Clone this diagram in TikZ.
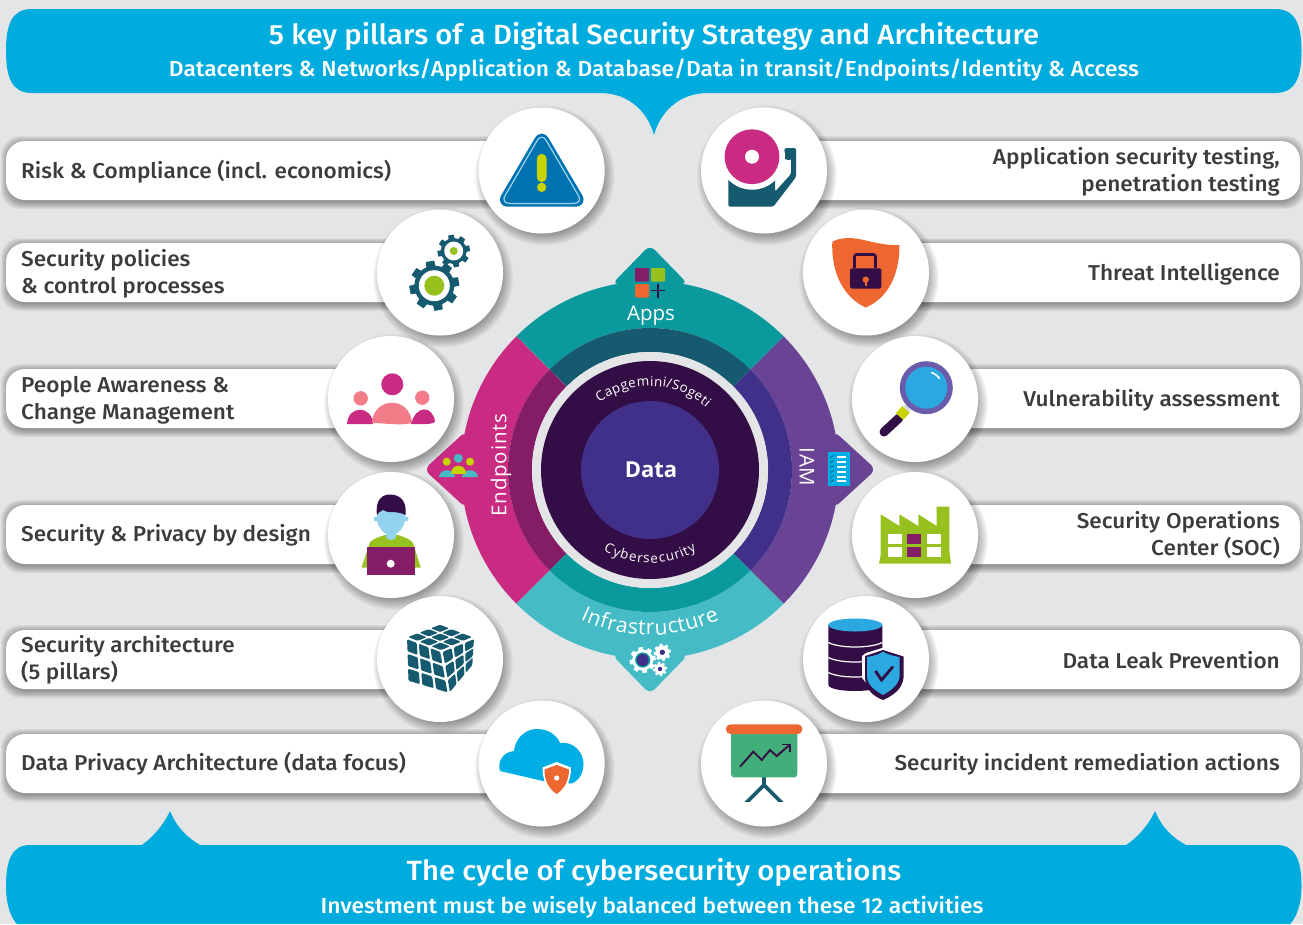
\documentclass[tikz,border=0pt]{standalone}
\usepackage{fontspec}
\setmainfont[FakeStretch=1.05]{Fira Sans Medium}
\newfontfamily\wheelfont{Open Sans}
\newfontfamily\wheelspaced[LetterSpace=4]{Open Sans}
\usetikzlibrary{decorations.text}
\definecolor{bgc}{HTML}{E4E5E7}
\definecolor{banner}{HTML}{00ACDD}
\definecolor{inkc}{HTML}{3C3C3B}
\definecolor{tealA}{HTML}{0A9A9E}
\definecolor{tealB}{HTML}{155A6E}
\definecolor{magA}{HTML}{C92A82}
\definecolor{magB}{HTML}{851C66}
\definecolor{purA}{HTML}{6A4494}
\definecolor{purB}{HTML}{403089}
\definecolor{cyanA}{HTML}{45BCC5}
\definecolor{darkc}{HTML}{330D45}
\definecolor{greenc}{HTML}{97C11E}
\definecolor{yelc}{HTML}{C8D400}
\definecolor{orac}{HTML}{EE6730}
\definecolor{bluec}{HTML}{00AEE6}
\definecolor{blued}{HTML}{2AA8DF}
\definecolor{salm}{HTML}{F27C87}
\definecolor{warnb}{HTML}{0072B0}
\definecolor{warnl}{HTML}{9AD5F0}
\definecolor{boardc}{HTML}{42AE79}
\definecolor{lensc}{HTML}{6A5CAA}
\tikzset{
  bartext/.style={text=inkc,font=\fontsize{21.5}{27}\selectfont,inner sep=0pt},
  lefttext/.style={bartext,anchor=west,align=left},
  righttext/.style={bartext,anchor=east,align=right},
  wheeltext/.style={text=white,inner sep=0pt,font=\wheelfont\fontsize{20.5}{24}\selectfont},
  wheelsp/.style={text=white,inner sep=0pt,font=\wheelspaced\fontsize{20.5}{24}\selectfont},
  whitetitle/.style={text=white,inner sep=0pt,font=\fontsize{27.8}{30}\selectfont},
  whitesmall/.style={text=white,inner sep=0pt,font=\fontsize{21.7}{24}\selectfont},
}
\newcommand\softcirc[3]{%
  \foreach \i in {1,...,12}{\fill[black,opacity=.03] (#1+3,#2+5) circle ({#3+8-\i});}%
  \fill[white] (#1,#2) circle (#3);}
\newcommand\softbar[4]{% x1 y1 x2 y2
  \foreach \i in {1,...,8}{\fill[black,opacity=.05,rounded corners=19] (#1-\i+3,#2-\i+3) rectangle (#3+\i-3,#4+\i+1);}%
  \fill[white,rounded corners=19] (#1,#2) rectangle (#3,#4);}
\newcommand\sect[5]{\fill[#5] plot[domain=#3:#4,samples=60] ({650+#1*cos(\x)},{470-#1*sin(\x)}) -- plot[domain=#4:#3,samples=60] ({650+#2*cos(\x)},{470-#2*sin(\x)}) -- cycle;}
% curved text: radius, from, to, size, text
\newcommand\curvetext[5]{\path[decorate,decoration={text effects along path,text={#5},text effects/.cd,text along path,fit text to path,characters={font=\wheelfont\fontsize{#4}{#4}\selectfont,text=white}}] plot[domain=#2:#3,samples=40] ({650+#1*cos(\x)},{470-#1*sin(\x)});}
% gear: x y Rout Rroot hole colour teeth
\newcommand\gear[7]{%
  \fill[#6] (#1,#2) circle (#4);
  \foreach \k in {1,...,#7}{\fill[#6,shift={(#1,#2)},rotate={\k*360/#7+10}] (-#3*.24,0) -- (-#3*.17,#3) -- (#3*.17,#3) -- (#3*.24,0) -- cycle;}
}
% cube face: corners P00 P10 P01 P11 (bilinear)
\newcommand\cbpt[2]{({(1-#1)*(1-#2)*\xa+#1*(1-#2)*\xb+(1-#1)*#2*\xc+#1*#2*\xd},{(1-#1)*(1-#2)*\ya+#1*(1-#2)*\yb+(1-#1)*#2*\yc+#1*#2*\yd})}
\newcommand\cubeface[8]{%
  \def\xa{#1}\def\ya{#2}\def\xb{#3}\def\yb{#4}\def\xc{#5}\def\yc{#6}\def\xd{#7}\def\yd{#8}%
  \foreach \i in {0,1,2}{\foreach \j in {0,1,2}{%
    \pgfmathsetmacro\ua{(\i+.09)/3}\pgfmathsetmacro\ub{(\i+.91)/3}%
    \pgfmathsetmacro\va{(\j+.09)/3}\pgfmathsetmacro\vb{(\j+.91)/3}%
    \fill[tealB,rounded corners=1.2] \cbpt{\ua}{\va} -- \cbpt{\ub}{\va} -- \cbpt{\ub}{\vb} -- \cbpt{\ua}{\vb} -- cycle;}}}
\begin{document}
\begin{tikzpicture}[x=1pt,y=-1pt]
\useasboundingbox (0,0) rectangle (1303,924);
\fill[bgc] (0,0) rectangle (1303,924);
% banners
\fill[banner] (6,51) .. controls (6,24) and (12,9) .. (32,9) -- (1275,9) .. controls (1295,9) and (1301.5,24) .. (1301.5,51) .. controls (1301.5,78) and (1295,93) .. (1275,93) -- (708,93) .. controls (678,93) and (660,113) .. (654,135) .. controls (648,113) and (630,93) .. (600,93) -- (32,93) .. controls (12,93) and (6,78) .. cycle;
\fill[banner] (6,886) .. controls (6,860) and (12,845) .. (30,845) -- (141.7,845) .. controls (152,838) and (163,826) .. (170,811) .. controls (177,828) and (188,838) .. (200,845) -- (1126,845) .. controls (1137,838) and (1148,826) .. (1155,811) .. controls (1162,828) and (1173,838) .. (1186,845) -- (1277,845) .. controls (1295,845) and (1301.5,860) .. (1301.5,886) .. controls (1301.5,905) and (1296,918) .. (1290,924) -- (17,924) .. controls (11,918) and (6,905) .. cycle;
\node[whitetitle] (title) at (654,36) {5 key pillars of a Digital Security Strategy and Architecture};
\node[whitesmall] (subtitle) at (654,70) {Datacenters \& Networks/Application \& Database/Data in transit/Endpoints/Identity \& Access};
\node[whitetitle] (foot) at (654,872) {The cycle of cybersecurity operations};
\node[whitesmall] (footsub) at (652,907) {Investment must be wisely balanced between these 12 activities};
% wheel tabs
\fill[tealA,rounded corners=7] (612,284) -- (650,245) -- (688,284) -- cycle;
\fill[cyanA,rounded corners=7] (612,655) -- (650,694) -- (688,655) -- cycle;
\fill[magA,rounded corners=7] (466,431) -- (424,469.5) -- (466,508) -- cycle;
\fill[purA,rounded corners=7] (834,431) -- (876,469.5) -- (834,508) -- cycle;
% wheel
\sect{189}{142}{45}{135}{tealA}
\sect{142}{118}{45}{135}{tealB}
\sect{189}{142}{135}{225}{magA}
\sect{142}{118}{135}{225}{magB}
\sect{189}{142}{225}{315}{cyanA}
\sect{142}{118}{225}{315}{tealA}
\sect{189}{142}{-45}{45}{purA}
\sect{142}{118}{-45}{45}{purB}
\fill[bgc] (650,470) circle (118);
\fill[darkc] (650,470) circle (109);
\fill[purB] (650,470) circle (69);
\node[text=white,font=\wheelfont\bfseries\fontsize{22}{24}\selectfont,inner sep=0pt] (data) at (651,470) {Data};
\node[wheeltext] (apps) at (651,316) {Apps};
\node[wheelsp,rotate=90] (endp) at (501,465) {Endpoints};
\node[wheelsp,rotate=-90] (iam) at (807,467) {IAM};
\curvetext{84}{127}{48}{13.4}{Capgemini/Sogeti}
\curvetext{93}{240}{300}{13.4}{Cybersecurity}
\curvetext{165}{245}{295}{21}{Infrastructure}
% tab icons
\fill[magB,rounded corners=1] (635,268) rectangle (649,281.5);
\fill[greenc,rounded corners=1] (651,268) rectangle (665,281.5);
\fill[orac,rounded corners=1] (635,284) rectangle (649,297.5);
\draw[darkc,line width=1.3] (651,290.7) -- (665,290.7) (658,284) -- (658,297.5);
\fill[yelc] (446.7,461.7) circle (4) (470,461.7) circle (4);
\fill[cyanA] (458.3,458.3) circle (4.5);
\fill[cyanA] (439,477) .. controls (440,468) and (454,468) .. (455,477) -- cycle;
\fill[cyanA] (462,477) .. controls (463,468) and (477,468) .. (478,477) -- cycle;
\fill[yelc] (451,474) .. controls (451,463) and (466,463) .. (466,474) -- cycle;
\fill[bluec] (827.5,452) rectangle (850,485.5);
\foreach \yy in {456.5,461.5,466.5,471.5,476.5,481}{
  \fill[white] (836.5,\yy-1) rectangle (846,\yy+1);
  \draw[tealB,line width=.6] (830,\yy-.5) -- (831.5,\yy+1) -- (834,\yy-1.5);}
\gear{642.7}{660}{13}{10.5}{6}{white}{8}
\fill[tealA] (642.7,660) circle (7.6);
\fill[purB] (642.7,660) circle (6);
\gear{662.3}{652.3}{8.5}{6.8}{3}{white}{8}
\fill[purB] (662.3,652.3) circle (2.7);
\gear{660}{669}{7}{5.6}{2}{white}{8}
\fill[purB] (660,669) circle (2.2);
% left bars and circles
\softbar{6}{141}{520}{200}
\node[lefttext] (t1) at (21,171.5) {Risk \& Compliance (incl. economics)};
\softcirc{541.7}{170.5}{63}
\softbar{6}{243}{420}{302}
\node[lefttext] (t2) at (21,274) {Security policies\\\& control processes};
\softcirc{440}{272.5}{63}
\softbar{6}{369}{370}{428}
\node[lefttext] (t3) at (21,400) {People Awareness \&\\Change Management};
\softcirc{391}{399}{63}
\softbar{6}{505}{370}{564}
\node[lefttext] (t4) at (21,535.5) {Security \& Privacy by design};
\softcirc{391}{535}{63}
\softbar{6}{630}{420}{689}
\node[lefttext] (t5) at (21,660) {Security architecture\\(5 pillars)};
\softcirc{440}{659}{63}
\softbar{6}{734}{520}{793}
\node[lefttext] (t6) at (21,764) {Data Privacy Architecture (data focus)};
\softcirc{541.7}{763.5}{63}
% right bars and circles
\softbar{785}{141}{1300}{200}
\node[righttext] (r1) at (1280,171.5) {Application security testing,\\penetration testing};
\softcirc{764}{170.5}{63}
\softbar{885}{243}{1300}{302}
\node[righttext] (r2) at (1280,274) {Threat Intelligence};
\softcirc{866}{272.5}{63}
\softbar{935}{369}{1300}{428}
\node[righttext] (r3) at (1280,400) {Vulnerability assessment};
\softcirc{915}{399}{63}
\softbar{935}{505}{1300}{564}
\node[righttext] (r4) at (1280,535.5) {Security Operations\\Center (SOC)};
\softcirc{915}{535}{63}
\softbar{885}{630}{1300}{689}
\node[righttext] (r5) at (1280,660) {Data Leak Prevention};
\softcirc{866}{659}{63}
\softbar{785}{734}{1300}{793}
\node[righttext] (r6) at (1280,764) {Security incident remediation actions};
\softcirc{764}{763.5}{63}
% icon: warning
\fill[warnb,rounded corners=14] (541.7,126.5) -- (589,206.7) -- (494.5,206.7) -- cycle;
\draw[warnl,line width=1.2,rounded corners=9] (541.7,132.7) -- (583,203.4) -- (500.5,203.4) -- cycle;
\fill[yelc,rounded corners=4.5] (536.9,154) rectangle (546.5,182);
\fill[yelc] (541.7,187.3) circle (4.7);
% gears
\gear{434.3}{285.7}{24.8}{20}{15}{tealB}{8}
\fill[white] (434.3,285.7) circle (15.5);
\fill[greenc] (434.3,285.7) circle (10);
\gear{453.7}{251}{16.2}{13}{9}{tealB}{8}
\fill[white] (453.7,251) circle (9.5);
\fill[greenc] (453.7,251) circle (4);
% people
\fill[magA] (392.3,384.3) circle (11);
\fill[salm] (360.7,398.3) circle (7.2) (422.3,397.7) circle (7.2);
\fill[magA] (347,424) .. controls (348,405) and (372,405) .. (373,424) -- cycle;
\fill[magA] (411,424) .. controls (416,405) and (432,405) .. (435,421) .. controls (435,425) and (420,424) .. (411,424) -- cycle;
\fill[salm] (371.7,423) .. controls (374,396) and (410,396) .. (412,423) .. controls (400,426) and (385,423) .. cycle;
% person laptop
\fill[greenc] (361.5,567.5) -- (370,542) .. controls (374,538) and (382,536) .. (385,535) -- (398,535) .. controls (404,537) and (410,539) .. (413,543) -- (420.7,567.5) -- cycle;
\fill[blued!50!white] (376,519) circle (2.5) (406,519) circle (2.5);
\fill[blued!50!white] (377,510) -- (405,510) -- (405,520) .. controls (404,528) and (398,533) .. (396,534) -- (396,537) .. controls (396,541) and (386,541) .. (386,537) -- (386,534) .. controls (384,533) and (378,528) .. (377,520) -- cycle;
\fill[darkc] (377,515) .. controls (375,500) and (382,494) .. (391,494.5) .. controls (401,495) and (407,502) .. (405.5,515) .. controls (396,510) and (388,514) .. (383,510) .. controls (380,511) and (378,513) .. (377,515) -- cycle;
\fill[magB] (367.3,547) rectangle (415,575.3);
\fill[white] (390.7,563.7) circle (4);
% cube
\cubeface{441}{651}{406}{637}{474}{637}{440}{624}
\cubeface{441}{651}{406}{637.5}{449}{694}{407.3}{681.7}
\cubeface{441.5}{651}{475}{638}{449.5}{694}{473}{665}
% cloud
\fill[bluec] (500,771) .. controls (497,762) and (503,752) .. (514,751) .. controls (516,735) and (528,729) .. (537,729) .. controls (548,729) and (557,735) .. (560,743) .. controls (573,741) and (584,752) .. (583.5,765) .. controls (583,775) and (578,781) .. (572,783.5) -- (543,781) -- cycle;
\fill[white] (556.7,762) -- (571,767.5) .. controls (571,782) and (565,791) .. (556.7,796) .. controls (548,791) and (542.5,782) .. (542.5,767.5) -- cycle;
\fill[orac] (556.7,765) -- (569,769.5) .. controls (569,781) and (564,789) .. (556.7,794) .. controls (549,789) and (544.5,781) .. (544.5,769.5) -- cycle;
\fill[white] (556.7,778) circle (2.6);
% bell
\fill[tealB,rounded corners=1.5] (728.3,178) -- (775,178) -- (775,191.7) -- (791,174) -- (791,158) -- (784.5,158) -- (784.5,148) -- (796,148) -- (796,177) -- (773.3,206.7) -- (728.3,206.7) -- cycle;
\fill[tealB] (788.7,154) circle (6);
\fill[white] (752,156.7) circle (33);
\fill[magA] (752,156.7) circle (27.4);
\fill[white] (752,156.7) circle (7);
% shield lock
\fill[orac] (832.3,241.7) .. controls (845,235) and (860,239) .. (872,242) .. controls (882,244) and (890,245.5) .. (899.5,245) .. controls (899.5,275) and (888,298) .. (865.7,307.5) .. controls (845,298) and (831,275) .. cycle;
\draw[darkc,line width=2.6,rounded corners=2] (854.5,268) -- (854.5,254.5) -- (875.5,254.5) -- (875.5,268);
\fill[darkc,rounded corners=1.5] (850,268.3) rectangle (881.3,288.5);
\fill[orac] (865.7,279.7) circle (3.2);
\fill[orac] (864.7,280) rectangle (866.7,285.5);
% magnifier
\draw[darkc,line width=9,line cap=round] (899,418) -- (884,432);
\draw[yelc,line width=10] (906,409.5) -- (899.5,416.5);
\draw[black!15,line width=8] (908,407.5) -- (906,409.5);
\fill[lensc] (926.3,387.7) circle (26.5);
\fill[blued] (926.3,387.7) circle (21);
\draw[white,line width=1.6,line cap=round] plot[domain=-70:-35,samples=12] ({926.3+16*cos(\x)},{387.7+16*sin(\x)});
% factory
\fill[greenc] (879,563.7) -- (880.7,555) -- (880.7,514.3) -- (899.3,526) -- (899.3,514.3) -- (918.3,526) -- (918.3,514.3) -- (936.7,526) -- (936.7,506.7) -- (949.3,506.7) -- (949.3,550) -- (951,563.7) -- cycle;
\foreach \yy in {534,547}{
  \fill[white] (888,\yy) rectangle (902,\yy+10);
  \fill[magB] (907,\yy) rectangle (921,\yy+10);
  \fill[white] (927,\yy) rectangle (941,\yy+10);}
% database
\fill[darkc] (828.3,625) -- (882.3,625) -- (882.3,685) .. controls (880,693) and (830,693) .. (828.3,685) -- cycle;
\foreach \yy in {642.5,657.5,672.5}{\draw[white,line width=1.2] (828.3,\yy) .. controls (840,\yy+6) and (870,\yy+6) .. (882.3,\yy);}
\fill[blued] (855.3,625) ellipse (27 and 6.5);
\fill[white] (882,648) -- (866,653) -- (862,656) -- (862,678) -- (883,703) -- (905,680) -- (905,648) -- cycle;
\fill[darkc] (883,650) -- (903.5,656.5) -- (903.5,678) .. controls (902,690) and (892,696) .. (883,700) .. controls (873,696) and (866,690) .. (865,678) -- (865,656) -- cycle;
\fill[blued] (867,657) .. controls (874,656) and (880,654) .. (883,651.5) .. controls (886,654) and (893,656) .. (899.5,657) -- (899.5,677) .. controls (898,686) and (890,691) .. (883,695) .. controls (876,691) and (868,686) .. (867,677) -- cycle;
\draw[darkc,line width=2.8] (875.5,671) -- (881.5,680) -- (893,666.5);
% chart
\fill[tealB] (762.3,777) rectangle (765.7,788);
\begin{scope}
\clip (740,770) rectangle (790,801.7);
\draw[tealB,line width=3.6] (764,785) -- (746,803) (764,785) -- (782,803);
\end{scope}
\fill[boardc,rounded corners=3] (731,730) rectangle (797.3,777.3);
\fill[orac,rounded corners=4.5] (726,724.3) rectangle (802.3,734);
\draw[darkc,line width=1.9] (740,766.7) -- (753.3,751.7) -- (761.7,760) -- (770,750) -- (776.7,756) -- (789.5,745);
\draw[darkc,line width=1.9] (782,744.5) -- (790,744.5) -- (790,752);
\end{tikzpicture}
\end{document}
